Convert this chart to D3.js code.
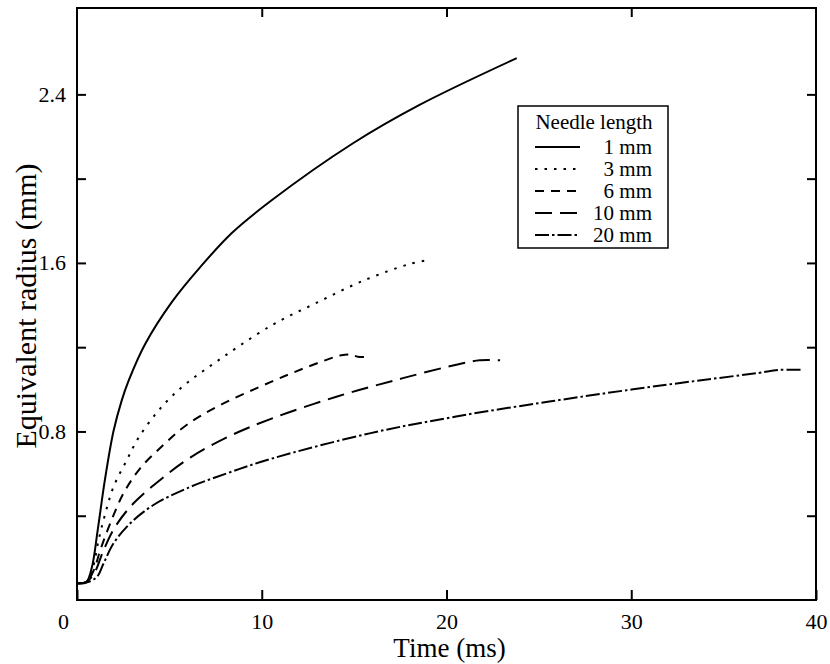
<!DOCTYPE html>
<html>
<head>
<meta charset="utf-8">
<script src="https://cdn.jsdelivr.net/npm/d3@7"></script>
<style>
  body { margin: 0; background: #fff; }
  svg text { font-family: 'Liberation Serif', serif; fill: #000; }
</style>
</head>
<body>
<svg id="chart" width="830" height="664"></svg>
<script>
// Needle length series (time in ms, equivalent radius in mm)
const labels = ['1 mm', '3 mm', '6 mm', '10 mm', '20 mm'];

const t1 = [0, 0.5, 0.81, 1.12, 1.51, 1.98, 2.43, 2.79, 3.69, 5.14, 6.67, 8.38, 10.5, 14.94, 18.54, 23.8];
const r1 = [0.08, 0.085, 0.157, 0.332, 0.57, 0.803, 0.95, 1.04, 1.215, 1.415, 1.58, 1.742, 1.895, 2.168, 2.35, 2.572];

const t3 = [0, 0.5, 0.85, 1.17, 1.53, 1.98, 2.7, 3.33, 4.23, 5.05, 5.95, 7.2, 10.5, 12.95, 15.48, 18.0, 18.8];
const r3 = [0.08, 0.085, 0.15, 0.285, 0.41, 0.538, 0.665, 0.77, 0.88, 0.96, 1.03, 1.11, 1.302, 1.41, 1.515, 1.595, 1.61];

const t6 = [0, 0.5, 0.9, 1.26, 1.8, 2.52, 3.42, 4.68, 5.95, 7.75, 10.5, 12.23, 13.5, 14.3, 14.8, 15.2, 15.9];
const r6 = [0.08, 0.085, 0.14, 0.237, 0.364, 0.507, 0.625, 0.736, 0.832, 0.925, 1.035, 1.098, 1.14, 1.162, 1.165, 1.155, 1.155];

const t10 = [0, 0.5, 0.95, 1.44, 2.07, 3.06, 4.5, 6.13, 8.11, 10.5, 14.04, 17.64, 20.88, 21.8, 22.9];
const r10 = [0.08, 0.085, 0.13, 0.237, 0.348, 0.459, 0.57, 0.676, 0.772, 0.86, 0.965, 1.053, 1.124, 1.138, 1.138];

const t20 = [0, 0.6, 1.08, 1.44, 1.98, 2.88, 4.14, 5.95, 8.11, 10.5, 15.84, 20.52, 25.57, 30.1, 33.68, 36.9, 38, 39.3];
const r20 = [0.08, 0.085, 0.11, 0.174, 0.269, 0.364, 0.451, 0.53, 0.601, 0.67, 0.791, 0.871, 0.942, 1.0, 1.042, 1.078, 1.092, 1.092];

const xTicks = [0, 10, 20, 30, 40];
const yTicks = [0.4, 0.8, 1.2, 1.6, 2.0, 2.4];
const yLabelled = [0.8, 1.6, 2.4];

const times = [t1, t3, t6, t10, t20];
const radii = [r1, r3, r6, r10, r20];
const dashes = ['none', '2.5,7', '9,7', '17,8', '14,3,2.5,3'];

const serif = "'Liberation Serif', serif";
const svg = d3.select('#chart');
const margin = {top: 8, right: 14, bottom: 64, left: 77};
const width = 830 - margin.left - margin.right,
  height = 664 - margin.top - margin.bottom;
const g = svg.append('g').attr('transform', `translate(${margin.left},${margin.top})`);

const x = d3.scaleLinear().domain([0, 40]).range([0, width]);
const y = d3.scaleLinear().domain([0, 2.81]).range([height, 0]);

// axes, ticks pointing inward
const xb = g.append('g').attr('transform', `translate(0,${height})`)
  .call(d3.axisBottom(x).tickValues(xTicks).tickSize(-10).tickPadding(13).tickFormat(d3.format('d')));
const xt = g.append('g')
  .call(d3.axisTop(x).tickValues([10, 20, 30]).tickSize(-9).tickFormat(''));
const yl = g.append('g')
  .call(d3.axisLeft(y).tickValues(yTicks).tickSize(-9).tickPadding(11)
    .tickFormat(d => yLabelled.includes(d) ? d3.format('.1f')(d) : ''));
const yr = g.append('g').attr('transform', `translate(${width},0)`)
  .call(d3.axisRight(y).tickValues(yTicks).tickSize(-9).tickFormat(''));

[xb, xt, yl, yr].forEach(a => {
  a.attr('font-family', null).attr('font-size', null);
  a.select('.domain').remove();
  a.selectAll('line').attr('stroke', '#000').attr('stroke-width', 2);
  a.selectAll('text').style('font-family', serif).style('font-size', '22px').attr('fill', '#000');
});
// the origin label sits left of the corner
xb.selectAll('.tick').filter(d => d === 0).select('text').attr('dx', -14);

// frame
g.append('rect').attr('width', width).attr('height', height)
  .attr('fill', 'none').attr('stroke', '#000').attr('stroke-width', 2);

// curves
const line = d3.line().x(d => x(d[0])).y(d => y(d[1])).curve(d3.curveCatmullRom.alpha(0.5));
times.forEach((ts, i) => {
  const pts = ts.map((t, j) => [t, radii[i][j]]);
  g.append('path').datum(pts)
    .attr('d', line)
    .attr('fill', 'none')
    .attr('stroke', '#000')
    .attr('stroke-width', 2)
    .attr('stroke-dasharray', dashes[i]);
});

// axis titles
svg.append('text').attr('x', margin.left + width / 2 + 3).attr('y', 657)
  .attr('text-anchor', 'middle').style('font-family', serif).style('font-size', '27px').text('Time (ms)');
svg.append('text').attr('transform', 'translate(36,306) rotate(-90)')
  .attr('text-anchor', 'middle').style('font-family', serif).style('font-size', '30px').text('Equivalent radius (mm)');

// legend
const lg = svg.append('g');
lg.append('rect').attr('x', 518).attr('y', 106).attr('width', 150).attr('height', 142)
  .attr('fill', '#fff').attr('stroke', '#000').attr('stroke-width', 1.5);
lg.append('text').attr('x', 594).attr('y', 129).attr('text-anchor', 'middle')
  .style('font-family', serif).style('font-size', '21px').text('Needle length');
labels.forEach((k, i) => {
  const yy = 147 + i * 22;
  lg.append('line').attr('x1', 535).attr('x2', 580).attr('y1', yy).attr('y2', yy)
    .attr('stroke', '#000').attr('stroke-width', 2).attr('stroke-dasharray', dashes[i]);
  lg.append('text').attr('x', 652).attr('y', yy + 7).attr('text-anchor', 'end')
    .style('font-family', serif).style('font-size', '21px').text(k);
});
</script>
</body>
</html>
